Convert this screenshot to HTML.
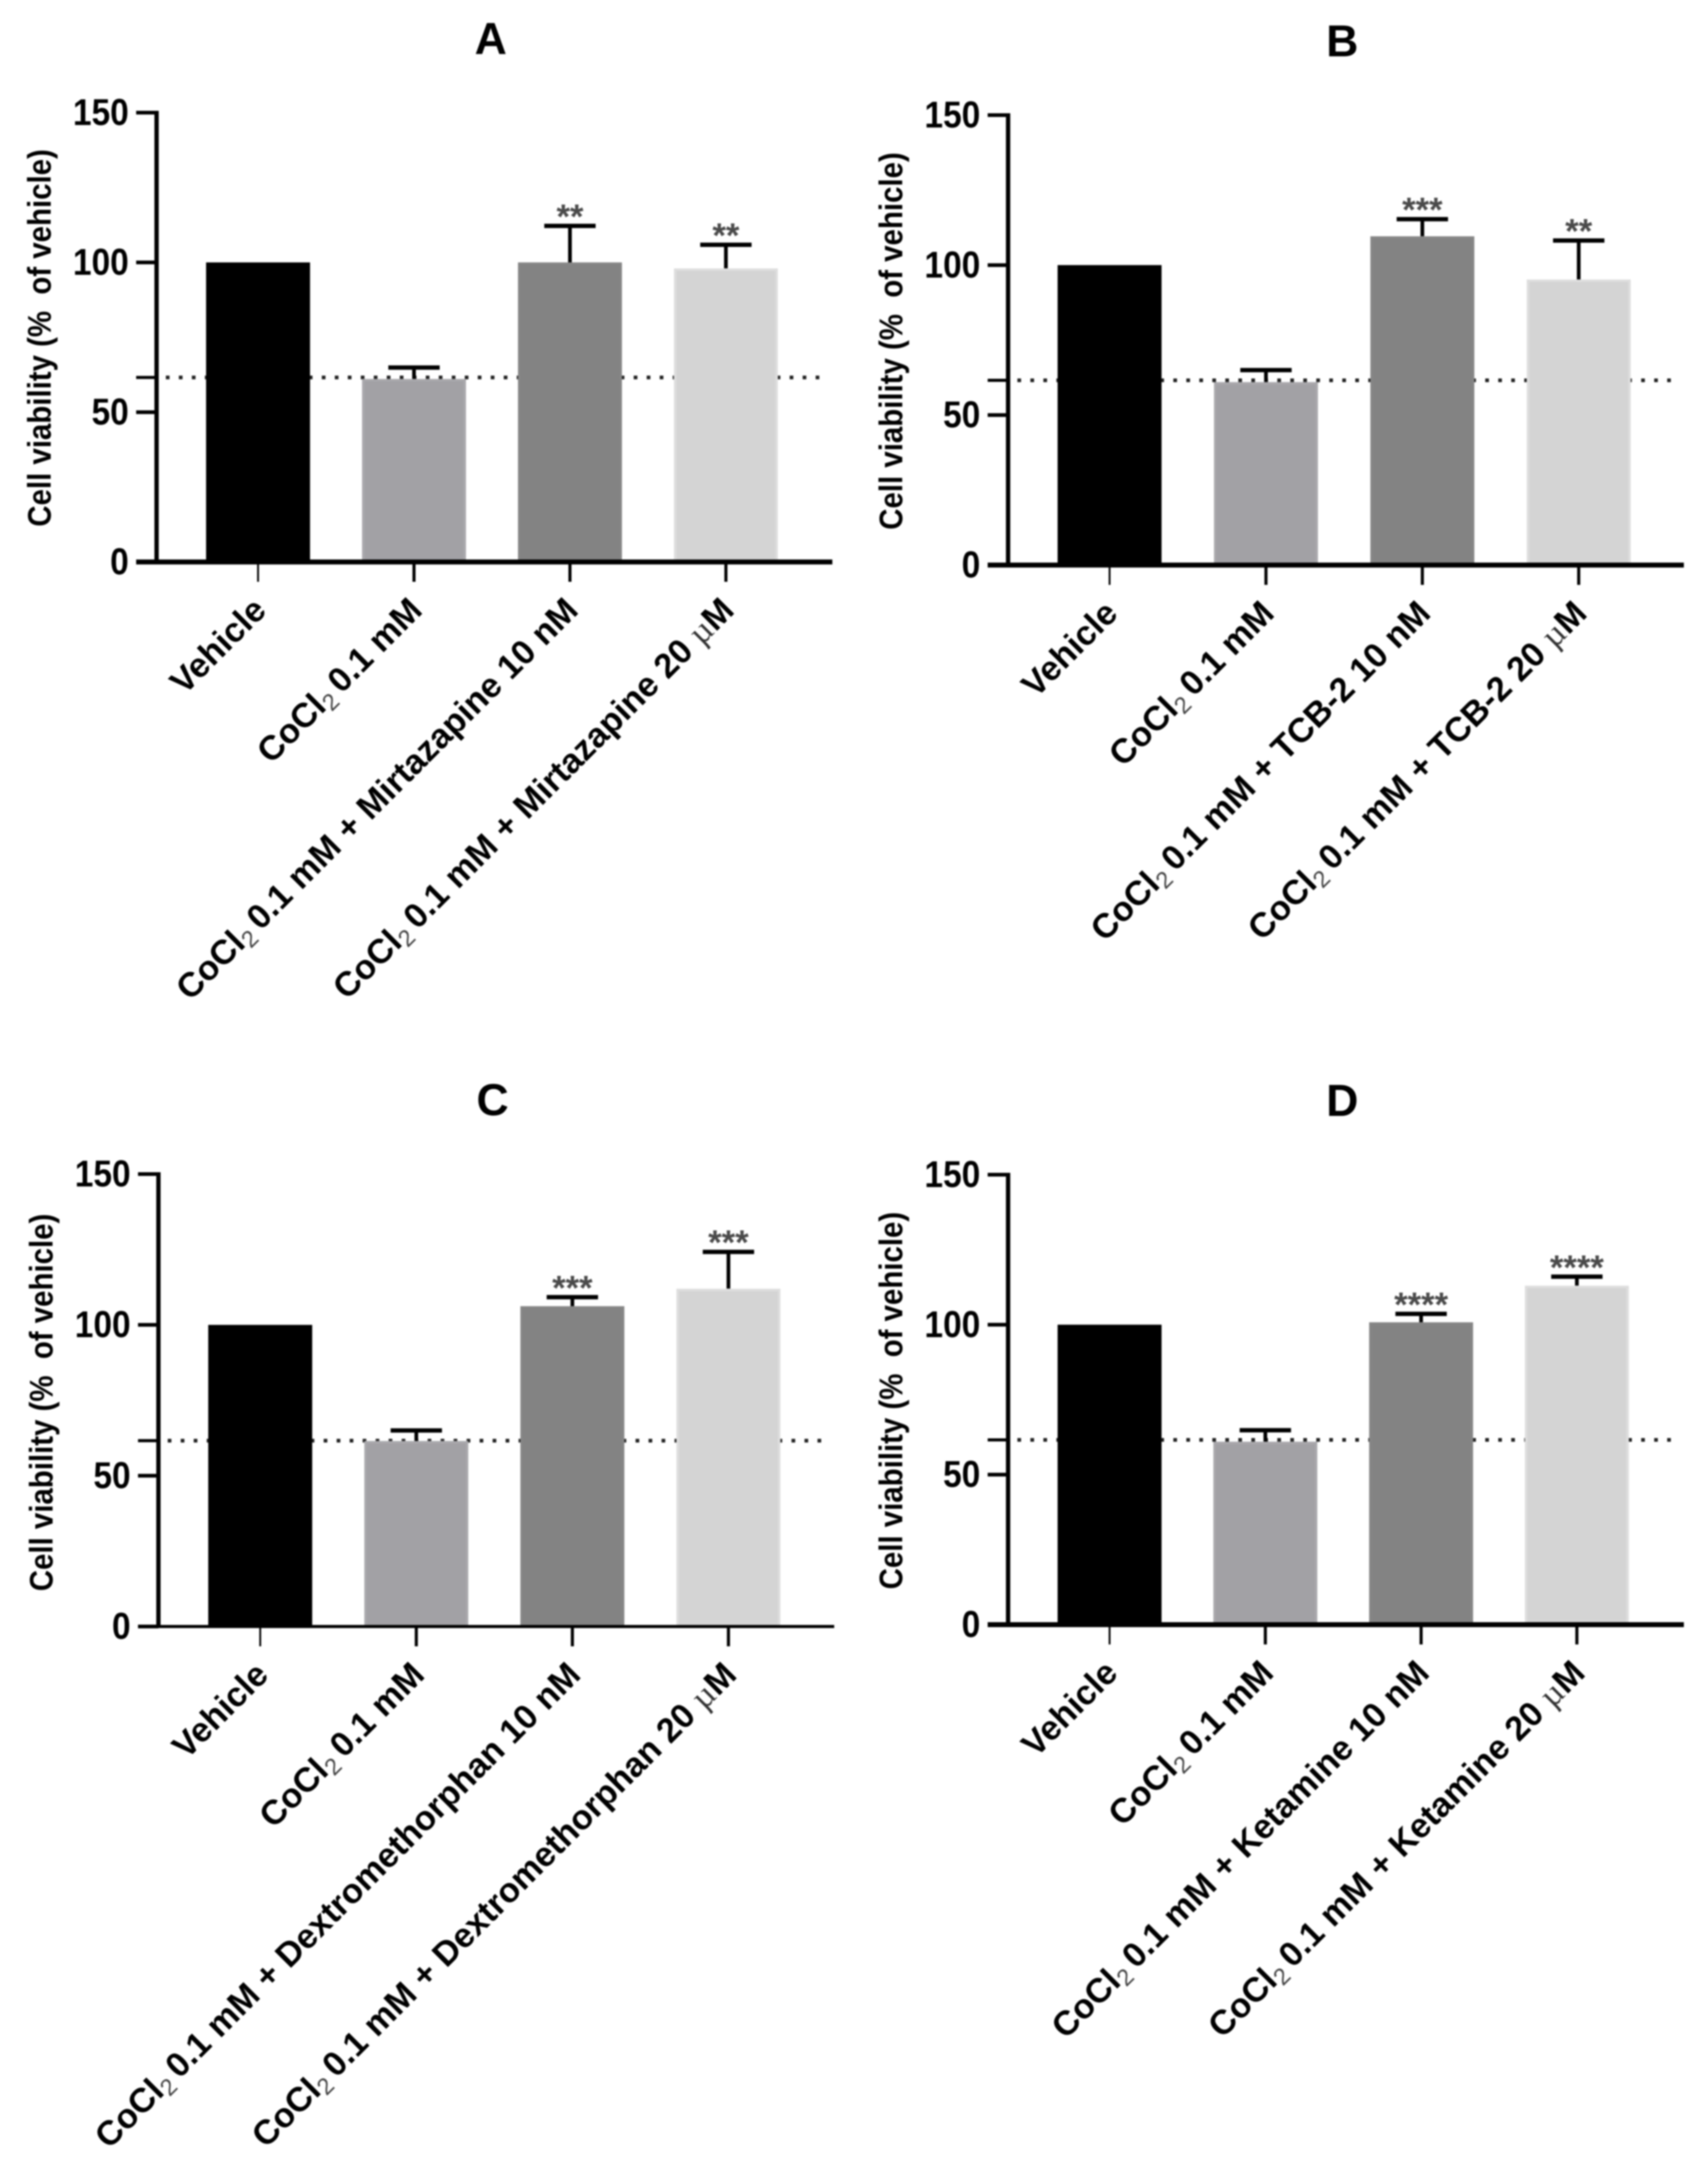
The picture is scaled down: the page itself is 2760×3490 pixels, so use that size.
<!DOCTYPE html>
<html lang="en">
<head>
<meta charset="utf-8">
<title>Cell viability panels</title>
<style>
html,body{margin:0;padding:0;background:#fff;width:2760px;height:3490px;overflow:hidden}
svg{display:block;filter:blur(1.2px)}
text{font-family:"Liberation Sans",sans-serif;white-space:pre}
</style>
</head>
<body>
<svg id="figure" xmlns="http://www.w3.org/2000/svg" width="2760" height="3490" viewBox="0 0 2760 3490">
<rect x="0" y="0" width="2760" height="3490" fill="#ffffff"></rect>
</svg>
<script>
// ---- Chart data ----
const yTickValues = [0, 50, 100, 150];
const yTickLabels = ["0", "50", "100", "150"];
const referenceValue = 61.6;
const yAxisTitle = "Cell viability (%  of vehicle)";

const panelTitles = ["A", "B", "C", "D"];
const drugNames = ["Mirtazapine", "TCB-2", "Dextromethorphan", "Ketamine"];

const meansA = [100, 61.1, 100, 98];
const meansB = [100, 61, 109.6, 95.2];
const meansC = [100, 61.5, 106.2, 112];
const meansD = [100, 61, 100.8, 113];

const errorsA = [0, 3.8, 12.2, 7.9];
const errorsB = [0, 4, 5.7, 13];
const errorsC = [0, 3.5, 3, 12.2];
const errorsD = [0, 3.8, 2.8, 3];

const starsA = ["", "", "**", "**"];
const starsB = ["", "", "***", "**"];
const starsC = ["", "", "***", "***"];
const starsD = ["", "", "****", "****"];

// ---- Layout (plot frames, not data) ----
const frames = [
  {axisX: 253,  y0: 908,  y150: 182,  first: 417,   step: 252,   axisH: 8},
  {axisX: 1629, y0: 913,  y150: 186,  first: 1793,  step: 252.7, axisH: 8},
  {axisX: 256,  y0: 2628, y150: 1897, first: 420.5, step: 252.2, axisH: 5},
  {axisX: 1629, y0: 2625, y150: 1898, first: 1793,  step: 251.7, axisH: 8}
];
const allMeans = [meansA, meansB, meansC, meansD];
const allErrors = [errorsA, errorsB, errorsC, errorsD];
const allStars = [starsA, starsB, starsC, starsD];
const barColors = ["#000000", "#a2a1a5", "#838383", "#d4d4d4"];
const barEdges = ["#000000", "#a9a8ac", "#868686", "#dedede"];
const tickWidths = [3, 5, 5, 5];
const BAR_W = 168, CAP_W = 83;

const SVG_NS = "http://www.w3.org/2000/svg";
const root = document.getElementById("figure");

function make(parent, tag, attrs, text) {
  const node = document.createElementNS(SVG_NS, tag);
  for (const k in attrs) node.setAttribute(k, attrs[k]);
  if (text !== undefined) node.textContent = text;
  parent.appendChild(node);
  return node;
}

function categoryLabel(parent, xEnd, yEnd, drug, doseIndex, name) {
  const el = make(parent, "text", {
    "text-anchor": "end", "font-size": 55.5, "font-weight": "bold", fill: "#000",
    transform: "translate(" + xEnd + "," + yEnd + ") rotate(-45)"
  });
  
  
  if (doseIndex === 0) {
    el.textContent = "Vehicle";
    return;
  }
  make(el, "tspan", {}, "CoCl");
  make(el, "tspan", {"font-size": 38, "font-weight": "normal", dy: 9, fill: "#444"}, "2");
  let rest = " 0.1 mM";
  if (doseIndex === 2) rest += " + " + drug + " 10 nM";
  if (doseIndex === 3) rest += " + " + drug + " 20 ";
  make(el, "tspan", {dy: -9, dx: -5}, rest);
  if (doseIndex === 3) {
    make(el, "tspan", {"font-family": "Liberation Serif, serif", "font-weight": "normal", fill: "#333"}, "\u00b5");
    make(el, "tspan", {}, "M");
  }
}

frames.forEach(function (f, p) {
  const means = allMeans[p], errors = allErrors[p], stars = allStars[p];
  const yScale = function (v) { return f.y0 - (v / 150) * (f.y0 - f.y150); };
  const xScale = function (i) { return f.first + i * f.step; };
  const title = panelTitles[p];
  const tag = title.toLowerCase();

  const g = make(root, "g", {});
  
  

  // panel title
  const cx = f.axisX + 540, ty = f.y150 - 95;
  const titleEl = make(g, "text", {
    "text-anchor": "middle", "font-size": 72, "font-weight": "bold", fill: "#000",
    transform: "translate(" + cx + "," + ty + ") scale(1,1)"
  }, title);
  
  

  // y-axis title
  const yTitle = make(g, "text", {
    "text-anchor": "middle", "font-size": 48, "font-weight": "bold", fill: "#000",
    transform: "translate(" + (f.axisX - 171) + "," + (f.y0 - 362) + ") rotate(-90) scale(0.99,1.1)"
  }, yAxisTitle);
  
  

  // dotted reference line (beneath bars)
  const dotted = make(g, "line", {
    x1: f.axisX + 15, x2: f.axisX + 1075, y1: yScale(referenceValue), y2: yScale(referenceValue),
    stroke: "#222", "stroke-width": 6, "stroke-dasharray": "6 15"
  });
  
  

  const refTick = make(g, "line", {
    x1: f.axisX - 33, x2: f.axisX, y1: yScale(referenceValue), y2: yScale(referenceValue),
    stroke: "#000", "stroke-width": 5
  });
  
  

  // bars, error bars, significance marks
  means.forEach(function (m, i) {
    const bx = xScale(i) - BAR_W / 2;
    const topY = yScale(m);
    const capY = yScale(m + errors[i]);

    if (errors[i] > 0) {
      const whisker = make(g, "line", {
        x1: xScale(i), x2: xScale(i), y1: topY, y2: capY, stroke: "#000", "stroke-width": 6
      });
      
      

      const cap = make(g, "line", {
        x1: xScale(i) - CAP_W / 2, x2: xScale(i) + CAP_W / 2, y1: capY, y2: capY, stroke: "#000", "stroke-width": 7
      });
      
      
    }

    const bar = make(g, "rect", {
      x: bx + 2, y: topY + 2, width: BAR_W - 4, height: f.y0 - topY - 2,
      fill: barColors[i], stroke: barEdges[i], "stroke-width": 4
    });
    
    

    if (stars[i]) {
      const star = make(g, "text", {
        x: xScale(i), y: capY - 28 + 32, "text-anchor": "middle", "font-size": 56, "font-weight": "bold", fill: "#4a4a4a"
      }, stars[i]);
      
      
    }
  });

  // y axis
  const ySpine = make(g, "line", {
    x1: f.axisX, x2: f.axisX, y1: f.y150 - 3, y2: f.y0, stroke: "#000", "stroke-width": 7
  });
  
  

  yTickValues.forEach(function (v, i) {
    const tick = make(g, "line", {
      x1: f.axisX - 33, x2: f.axisX, y1: yScale(v), y2: yScale(v), stroke: "#000", "stroke-width": 6
    });
    
    

    const lab = make(g, "text", {
      "text-anchor": "end", "font-size": 60, "font-weight": "bold", fill: "#000",
      transform: "translate(" + (f.axisX - 45) + "," + (yScale(v) + 20) + ") scale(0.9,1)"
    }, yTickLabels[i]);
    
    
  });

  // x axis
  const xLine = make(g, "line", {
    x1: f.axisX - 33, x2: f.axisX + 1092, y1: f.y0, y2: f.y0, stroke: "#000", "stroke-width": f.axisH
  });
  
  

  means.forEach(function (m, i) {
    const xt = make(g, "line", {
      x1: xScale(i), x2: xScale(i), y1: f.y0, y2: f.y0 + 32, stroke: "#000", "stroke-width": tickWidths[i]
    });
    
    

    categoryLabel(g, xScale(i) + 16, f.y0 + 81, drugNames[p], i, 'x-tick-label');
  });
});
</script>
</body>
</html>
